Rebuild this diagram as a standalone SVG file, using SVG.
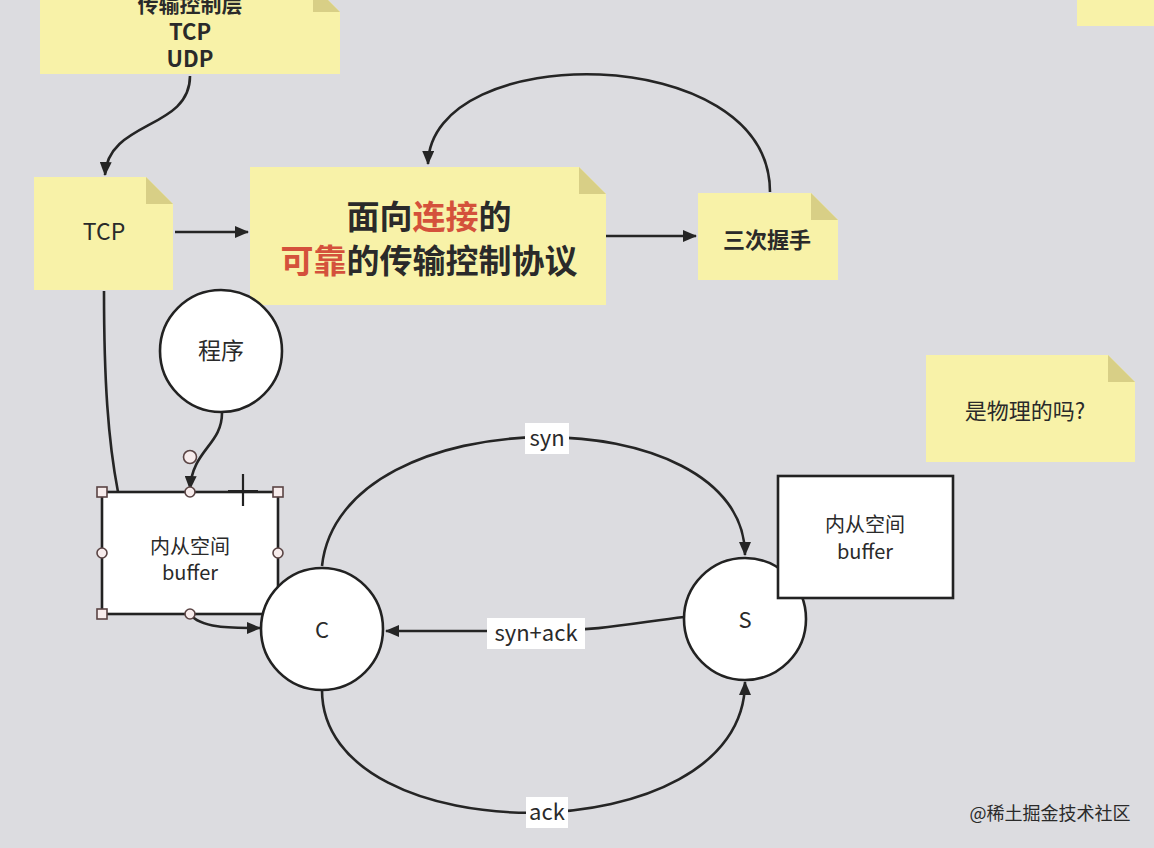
<svg xmlns="http://www.w3.org/2000/svg" width="1154" height="848" viewBox="0 0 1154 848">
<defs>
<marker id="ah" viewBox="0 0 14 12" refX="13" refY="6" markerWidth="14" markerHeight="12" markerUnits="userSpaceOnUse" orient="auto">
<path d="M0,0 L14,6 L0,12 Z" fill="#252525"/>
</marker>
<style>
.note{fill:#f8f2a8;}
.fold{fill:#d8cf86;}
.edge{fill:none;stroke:#252525;stroke-width:2.6;}
.circ{fill:#ffffff;stroke:#222;stroke-width:2.6;}
.box{fill:#ffffff;stroke:#222;stroke-width:2.6;}
.t{font-family:"Noto Sans CJK SC","Noto Sans",sans-serif;text-anchor:middle;fill:#2a2a2a;}
.b{font-weight:bold;}
.red{fill:#d4513b;}
.lbl{fill:#ffffff;}
.hs{fill:#f7ecec;stroke:#5a4444;stroke-width:1.6;}
</style>
</defs>
<rect width="1154" height="848" fill="#dcdce0"/>

<g id="connectors">
<path class="edge" d="M190,76 C190,130 108,120 105,175" marker-end="url(#ah)"/>
<path class="edge" d="M175,232 L248,232" marker-end="url(#ah)"/>
<path class="edge" d="M606,236 L696,236" marker-end="url(#ah)"/>
<path class="edge" d="M770,192 C770,40 430,40 428,164" marker-end="url(#ah)"/>
<path class="edge" d="M104,291 C104,380 108,440 118,492"/>
<path class="edge" d="M222,413 C222,445 192,450 190,489" marker-end="url(#ah)"/>
<path class="edge" d="M190,614 C200,628 230,628 260,628" marker-end="url(#ah)"/>
<path class="edge" d="M322,566 C340,396 745,396 745,555" marker-end="url(#ah)"/>
<path class="edge" d="M684,617 C640,622 600,631 540,631 L386,631" marker-end="url(#ah)"/>
<path class="edge" d="M322,690 C322,855 745,855 745,682" marker-end="url(#ah)"/>
<rect class="lbl" x="525" y="423" width="44" height="31"/>
<text class="t" x="547" y="446" font-size="22">syn</text>
<rect class="lbl" x="487" y="618" width="98" height="31"/>
<text class="t" x="536" y="641" font-size="22">syn+ack</text>
<rect class="lbl" x="526" y="797" width="42" height="31"/>
<text class="t" x="547" y="820" font-size="22">ack</text>
</g>

<g id="note-layer">
<path class="note" d="M40,-15 L313,-15 L340,12 L340,74 L40,74 Z"/>
<path class="fold" d="M313,-15 L340,12 L313,12 Z"/>
<text class="t b" x="190" y="12" font-size="21">传输控制层</text>
<text class="t b" x="190" y="40" font-size="22">TCP</text>
<text class="t b" x="190" y="67" font-size="22">UDP</text>
</g>

<g id="note-topright">
<rect class="note" x="1077" y="-10" width="90" height="36"/>
</g>

<g id="note-tcp">
<path class="note" d="M34,177 L146,177 L173,204 L173,290 L34,290 Z"/>
<path class="fold" d="M146,177 L173,204 L146,204 Z"/>
<text class="t" x="104" y="240" font-size="23">TCP</text>
</g>

<g id="note-main">
<path class="note" d="M250,167 L579,167 L606,194 L606,305 L250,305 Z"/>
<path class="fold" d="M579,167 L606,194 L579,194 Z"/>
<text class="t b" x="429" y="229" font-size="33">面向<tspan class="red">连接</tspan>的</text>
<text class="t b" x="429" y="273" font-size="33"><tspan class="red">可靠</tspan>的传输控制协议</text>
</g>

<g id="note-handshake">
<path class="note" d="M698,193 L811,193 L838,220 L838,280 L698,280 Z"/>
<path class="fold" d="M811,193 L838,220 L811,220 Z"/>
<text class="t b" x="767" y="248" font-size="22">三次握手</text>
</g>

<g id="note-physical">
<path class="note" d="M926,355 L1108,355 L1135,382 L1135,462 L926,462 Z"/>
<path class="fold" d="M1108,355 L1135,382 L1108,382 Z"/>
<text class="t" x="1025" y="419" font-size="22">是物理的吗?</text>
</g>

<g id="node-program">
<circle class="circ" cx="221" cy="351" r="61"/>
<text class="t" x="221" y="359" font-size="23">程序</text>
</g>

<g id="node-buffer-left">
<rect class="box" x="102" y="492" width="176" height="122" stroke="#4a3838"/>
<text class="t" x="190" y="554" font-size="20" fill="#444">内从空间</text>
<text class="t" x="190" y="580" font-size="20" fill="#444">buffer</text>
<rect class="hs" x="97" y="487" width="10" height="10"/>
<rect class="hs" x="273" y="487" width="10" height="10"/>
<rect class="hs" x="97" y="609" width="10" height="10"/>
<rect class="hs" x="273" y="609" width="10" height="10"/>
<circle class="hs" cx="190" cy="492" r="5"/>
<circle class="hs" cx="102" cy="553" r="5"/>
<circle class="hs" cx="278" cy="553" r="5"/>
<circle class="hs" cx="190" cy="614" r="5"/>
<circle class="hs" cx="190" cy="457" r="6.5" fill="#f5f0f0" stroke="#777"/>
<path d="M243,474 L243,506 M228,491 L258,491" stroke="#222" stroke-width="2.2" fill="none"/>
</g>

<g id="node-c">
<circle class="circ" cx="322" cy="629" r="61"/>
<text class="t" x="322" y="638" font-size="22">C</text>
</g>

<g id="node-s">
<circle class="circ" cx="745" cy="619" r="61"/>
<text class="t" x="745" y="628" font-size="22">S</text>
</g>

<g id="node-buffer-right">
<rect class="box" x="778" y="476" width="175" height="122"/>
<text class="t" x="865" y="532" font-size="20" fill="#444">内从空间</text>
<text class="t" x="865" y="559" font-size="20" fill="#444">buffer</text>
</g>

<text class="t" x="1050" y="820" font-size="18" fill="#8a8a8e">@稀土掘金技术社区</text>
</svg>
